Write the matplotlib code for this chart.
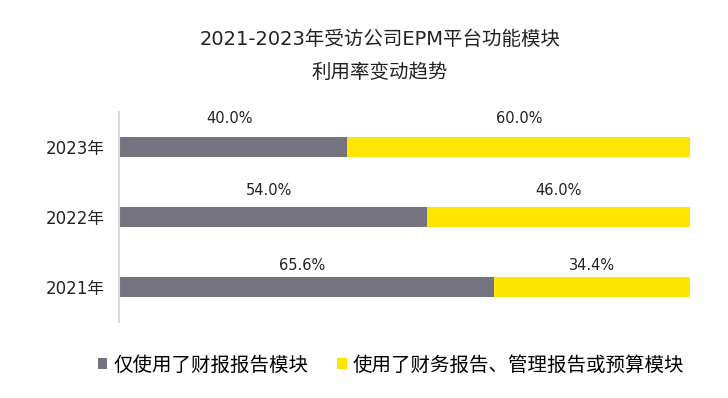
import numpy as np
import matplotlib.pyplot as plt

plt.rcParams['font.family'] = ['DejaVu Sans', 'Noto Sans CJK SC']

# data
years = ['2021年', '2022年', '2023年']
only_fin = [65.6, 54.0, 40.0]
fin_mgmt = [34.4, 46.0, 60.0]
series_names = ['仅使用了财报报告模块', '使用了财务报告、管理报告或预算模块']

gray = '#75737F'
yellow = '#FFE600'

fig = plt.figure(figsize=(7.28, 3.98), dpi=100)
ax = fig.add_axes([0.1635, 0.191, 0.7845, 0.5276])

y = np.arange(len(years))
h = 0.28
b1 = ax.barh(y, only_fin, height=h, color=gray, label=series_names[0])
b2 = ax.barh(y, fin_mgmt, left=only_fin, height=h, color=yellow, label=series_names[1])

# value labels above each segment (label height differs a bit per row, as in the original)
lift = [0.30, 0.385, 0.41]
for i in range(len(years)):
    ax.text(only_fin[i] / 2 - 0.7, y[i] + lift[i], f'{only_fin[i]:.1f}%',
            ha='center', va='center', fontsize=10.5, color='#222222')
    ax.text(only_fin[i] + fin_mgmt[i] / 2, y[i] + lift[i], f'{fin_mgmt[i]:.1f}%',
            ha='center', va='center', fontsize=10.5, color='#222222')

ax.set_xlim(0, 100)
ax.set_ylim(-0.5, 2.5)
ax.set_yticks(y)
ax.set_yticklabels(years, fontsize=12, color='#222222')
ax.tick_params(axis='y', length=0, pad=10)
ax.set_xticks([])
for s in ['top', 'right', 'bottom']:
    ax.spines[s].set_visible(False)
ax.spines['left'].set_color('#D9D9D9')
ax.spines['left'].set_linewidth(1.5)

fig.text(0.522, 0.902, '2021-2023年受访公司EPM平台功能模块', ha='center', va='center',
         fontsize=14, color='#222222')
fig.text(0.522, 0.817, '利用率变动趋势', ha='center', va='center',
         fontsize=14, color='#222222')

fig.legend(handles=[b1, b2], loc='center', bbox_to_anchor=(0.537, 0.083), ncol=2,
           frameon=False, fontsize=14, handlelength=0.5, handleheight=0.5,
           handletextpad=0.3, columnspacing=1.5)

fig.savefig('out.png', dpi=100)
